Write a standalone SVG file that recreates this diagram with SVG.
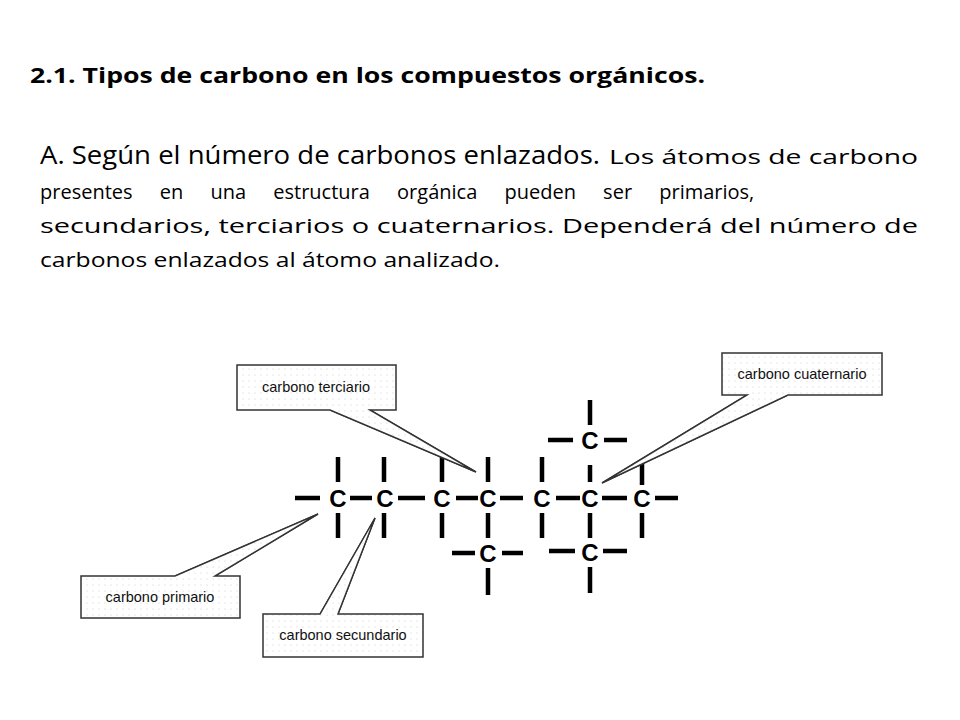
<svg xmlns="http://www.w3.org/2000/svg" width="960" height="720" viewBox="0 0 960 720">
<defs>
<pattern id="dots" width="6" height="6" patternUnits="userSpaceOnUse"><rect width="6" height="6" fill="#fff"/><circle cx="3" cy="3" r="0.6" fill="#ccc"/></pattern>
</defs>
<style>
.t{font-family:"Open Sans","Liberation Sans",Arial,sans-serif;fill:#000}
.p{font-family:"Open Sans","Liberation Sans",sans-serif;fill:#000}
.b{stroke:#000;stroke-width:4.5;fill:none}
.c{font-family:"Liberation Sans",Arial,sans-serif;font-weight:bold;font-size:24px;text-anchor:middle;fill:#000}
.box{fill:url(#dots);stroke:#333;stroke-width:1.5}
.lab{font-family:"Liberation Sans",Arial,sans-serif;font-size:14.5px;text-anchor:middle;fill:#111}
</style>
<rect width="960" height="720" fill="#fff"/>
<text class="t" x="30" y="83" font-size="22" font-weight="bold" textLength="675" lengthAdjust="spacingAndGlyphs">2.1. Tipos de carbono en los compuestos orgánicos.</text>
<text class="p" x="40" y="164" font-size="25" textLength="560" lengthAdjust="spacingAndGlyphs">A. Según el número de carbonos enlazados.</text>
<text class="p" x="609" y="164" font-size="20" textLength="309" lengthAdjust="spacingAndGlyphs">Los átomos de carbono</text>
<text class="p" x="40" y="199" font-size="20" word-spacing="22">presentes en una estructura orgánica pueden ser primarios,</text>
<text class="p" x="40" y="233" font-size="20" textLength="878" lengthAdjust="spacingAndGlyphs">secundarios, terciarios o cuaternarios. Dependerá del número de</text>
<text class="p" x="40" y="267" font-size="20" textLength="460" lengthAdjust="spacingAndGlyphs">carbonos enlazados al átomo analizado.</text>

<g id="molecule">
<g class="b">
<path d="M295 498H320M350 498H372M398 498H425M456 498H478M500 498H523M556 498H580M602 498H627M655 498H678"/>
<path d="M338 457V482M338 513V538M384 457V482M384 513V538M442 457V482M442 513V538M488 457V482M488 513V538M542 457V482M542 513V538M590 465V482M590 513V538M642 460V485M642 513V538"/>
<path d="M590 400V425M548 440H573M604 440H627"/>
<path d="M452 553H475M502 553H523M488 568V595"/>
<path d="M549 551H575M603 551H627M590 567V593"/>
</g>
<g>
<text class="c" x="338" y="507">C</text><text class="c" x="385" y="507">C</text><text class="c" x="442" y="507">C</text><text class="c" x="488" y="507">C</text><text class="c" x="542" y="507">C</text><text class="c" x="590" y="507">C</text><text class="c" x="642" y="507">C</text>
<text class="c" x="590" y="449">C</text><text class="c" x="488" y="562">C</text><text class="c" x="590" y="561">C</text>
</g>
</g>

<g id="connectors" fill="none" stroke="#333" stroke-width="1.3">
<path d="M330 410L476 472L370 410"/>
<path d="M747 395L602 483L788 395"/>
<path d="M175 576L318 514L215 576"/>
<path d="M320 614L375 518L338 614"/>
</g>

<g id="terciario"><path class="box" d="M237 365H396V410H370L476 472L330 410H237Z"/><text class="lab" x="316" y="392">carbono terciario</text></g>
<g id="cuaternario"><path class="box" d="M722 353H882V395H788L602 483L747 395H722Z"/><text class="lab" x="802" y="379">carbono cuaternario</text></g>
<g id="primario"><path class="box" d="M81 576H175L318 514L215 576H240V618H81Z"/><text class="lab" x="160" y="602">carbono primario</text></g>
<g id="secundario"><path class="box" d="M263 614H320L375 518L338 614H423V657H263Z"/><text class="lab" x="343" y="640">carbono secundario</text></g>
</svg>
